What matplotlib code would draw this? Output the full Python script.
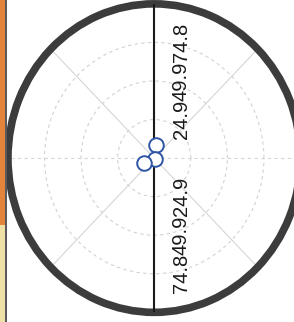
import numpy as np
import matplotlib
matplotlib.use('Agg')
import matplotlib.pyplot as plt
import matplotlib.transforms as mtransforms
from matplotlib.patches import Rectangle

# radial ticks (label text as printed) and the outer radius
r_ticks = [24.94, 49.88, 74.81]
r_labels = ['24.9', '49.9', '74.8']
r_max = 99.75

# the three plotted points
theta_deg = [84, 300, 207]
r_vals = [8.5, 1.0, 7.5]

fig = plt.figure(figsize=(2.94, 3.22), dpi=100)

# strip of a neighbouring panel on the left edge
fig.patches.append(Rectangle((0, 0.30), 0.018, 0.70, transform=fig.transFigure,
                             facecolor='#e3843a', edgecolor='none', zorder=0))
fig.patches.append(Rectangle((0, 0), 0.018, 0.30, transform=fig.transFigure,
                             facecolor='#eee0a6', edgecolor='none', zorder=0))
fig.patches.append(Rectangle((0.018, 0), 0.005, 1, transform=fig.transFigure,
                             facecolor='#5a5a5a', edgecolor='none', zorder=0))

ax = fig.add_axes([0.027, 0.030, 0.995, 0.958], projection='polar')
ax.set_aspect('auto')
ax.set_ylim(0, r_max)
ax.set_rticks(r_ticks)
ax.set_yticklabels([])
ax.set_thetagrids(np.arange(0, 360, 45), labels=[''] * 8)
ax.tick_params(axis='x', pad=0)

ax.yaxis.grid(True, color='#d2d2d2', linestyle=(0, (3, 3)), linewidth=0.8)
for i, gl in enumerate(ax.xaxis.get_gridlines()):
    if i % 4 == 0:
        gl.set_linestyle((0, (3, 3)))
    gl.set_color('#d6d6d6')
    gl.set_linewidth(0.8)

ax.spines['polar'].set_linewidth(5.5)
ax.spines['polar'].set_color('#3c3c3c')

# vertical black line through the centre
ax.vlines([np.pi / 2, 3 * np.pi / 2], 0, r_max, color='#1a1a1a', linewidth=1.5, zorder=3)

ax.plot(np.deg2rad(theta_deg), r_vals, 'o', markersize=10.5, markerfacecolor='white',
        markeredgecolor='#2f55a4', markeredgewidth=1.4, zorder=5)

off = mtransforms.offset_copy(ax.transData, fig=fig, x=27, y=0, units='dots')
for r, lab in zip(r_ticks, r_labels):
    for th in (np.pi / 2, 3 * np.pi / 2):
        ax.text(th, r, lab, transform=off, rotation=90, ha='center', va='center',
                fontsize=14.5, family='Liberation Sans', color='#1a1a1a', zorder=6)

fig.savefig('out.png', dpi=100)
